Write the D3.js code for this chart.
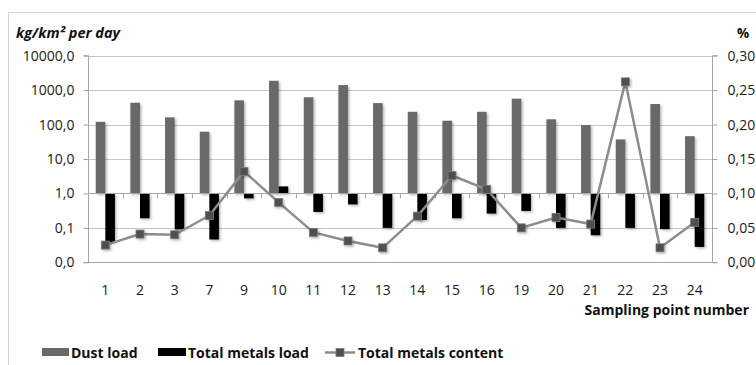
<!DOCTYPE html>
<html>
<head>
<meta charset="utf-8">
<script src="https://cdn.jsdelivr.net/npm/d3@7/dist/d3.min.js"></script>
<style>
  html, body { margin: 0; padding: 0; background: #fff; }
  svg { display: block; font-family: "Open Sans", Lato, sans-serif; }
</style>
</head>
<body>
<svg id="chart" width="756" height="365"></svg>
<script>
// Sampling points along the category axis
const samplingPoints = ["1", "2", "3", "7", "9", "10", "11", "12", "13", "14", "15", "16", "19", "20", "21", "22", "23", "24"];
// Dust load, kg/km² per day (left, logarithmic axis)
const dustLoad = [120, 430, 162, 62, 505, 1870, 620, 1400, 420, 235, 129, 235, 565, 142, 97, 37, 395, 46];
// Total metals load, kg/km² per day (left, logarithmic axis)
const metalsLoad = [0.039, 0.19, 0.09, 0.046, 0.72, 1.6, 0.29, 0.48, 0.10, 0.17, 0.19, 0.26, 0.31, 0.10, 0.061, 0.10, 0.092, 0.028];
// Total metals content, % (right axis)
const metalsContent = [0.025, 0.041, 0.040, 0.068, 0.132, 0.087, 0.0435, 0.031, 0.021, 0.067, 0.126, 0.106, 0.050, 0.065, 0.0555, 0.262, 0.021, 0.058];
// Axis ticks
const leftTicks = [0.01, 0.1, 1, 10, 100, 1000, 10000];
const rightTicks = [0, 0.05, 0.10, 0.15, 0.20, 0.25, 0.30];

const svg = d3.select("#chart");
const plot = { left: 88, right: 712, top: 55.7, bottom: 262.3 };
const FONT = "'Open Sans', Lato, sans-serif";

const locale = d3.formatLocale({ decimal: ",", thousands: "", grouping: [3], currency: ["", ""] });
const fmtLeft = locale.format(".1f");
const fmtRight = locale.format(".2f");

const x = d3.scaleBand().domain(samplingPoints).range([plot.left, plot.right]).padding(0);
const y = d3.scaleLog().domain([0.01, 10000]).range([plot.bottom, plot.top]);
const yR = d3.scaleLinear().domain([0, 0.3]).range([plot.bottom, plot.top]);

// soft shadow for bars and markers
const defs = svg.append("defs");
const f = defs.append("filter").attr("id", "shadow").attr("x", "-50%").attr("y", "-50%").attr("width", "200%").attr("height", "200%");
f.append("feDropShadow").attr("dx", 1.5).attr("dy", 1.5).attr("stdDeviation", 1).attr("flood-color", "#000").attr("flood-opacity", 0.28);

// outer chart frame
svg.append("rect").attr("x", 8.5).attr("y", 12.5).attr("width", 800).attr("height", 400)
  .attr("fill", "none").attr("stroke", "#d4d4d4").attr("stroke-width", 1);

// gridlines
svg.append("g").selectAll("line").data(leftTicks.slice(1)).join("line")
  .attr("x1", plot.left).attr("x2", plot.right)
  .attr("y1", d => Math.round(y(d)) + 0.5).attr("y2", d => Math.round(y(d)) + 0.5)
  .attr("stroke", "#c6c6c6").attr("stroke-width", 1);

// left axis
const leftAxis = d3.axisLeft(y).tickValues(leftTicks).tickFormat(fmtLeft).tickSize(5).tickPadding(9);
const gL = svg.append("g").attr("transform", `translate(${plot.left + 0.5},0)`).call(leftAxis);
gL.select(".domain").attr("stroke", "#a6a6a6").attr("d", `M-5,${plot.top}H0V${plot.bottom}`);
gL.selectAll(".tick line").attr("stroke", "#a6a6a6");
gL.selectAll(".tick text").attr("font-size", 14).attr("fill", "#1a1a1a").style("font-family", FONT);

// right axis
const rightAxis = d3.axisRight(yR).tickValues(rightTicks).tickFormat(fmtRight).tickSize(5).tickPadding(10);
const gR = svg.append("g").attr("transform", `translate(${plot.right + 0.5},0)`).call(rightAxis);
gR.select(".domain").attr("stroke", "#a6a6a6").attr("d", `M5,${plot.top}H0V${plot.bottom}`);
gR.selectAll(".tick line").attr("stroke", "#a6a6a6");
gR.selectAll(".tick text").attr("font-size", 14).attr("fill", "#1a1a1a").style("font-family", FONT);

// bottom baseline
svg.append("line").attr("x1", plot.left - 5).attr("x2", plot.right + 5)
  .attr("y1", Math.round(plot.bottom) + 0.5).attr("y2", Math.round(plot.bottom) + 0.5)
  .attr("stroke", "#a6a6a6");

// category axis crossing at 1
const y1 = y(1);
svg.append("g").selectAll("line").data(samplingPoints.slice(1)).join("line")
  .attr("x1", d => Math.round(x(d)) + 0.5).attr("x2", d => Math.round(x(d)) + 0.5)
  .attr("y1", y1).attr("y2", y1 + 5)
  .attr("stroke", "#a6a6a6");

// bars
const barW = 9.6;
const bars = svg.append("g").attr("filter", "url(#shadow)");
bars.selectAll("rect.dust").data(samplingPoints).join("rect").attr("class", "dust")
  .attr("x", (d) => x(d) + x.bandwidth() / 2 - barW)
  .attr("width", barW)
  .attr("y", (d, i) => Math.min(y(dustLoad[i]), y1))
  .attr("height", (d, i) => Math.abs(y(dustLoad[i]) - y1))
  .attr("fill", "#696969");
bars.selectAll("rect.metal").data(samplingPoints).join("rect").attr("class", "metal")
  .attr("x", (d) => x(d) + x.bandwidth() / 2)
  .attr("width", barW)
  .attr("y", (d, i) => Math.min(y(metalsLoad[i]), y1))
  .attr("height", (d, i) => Math.abs(y(metalsLoad[i]) - y1))
  .attr("fill", "#000");

// axis line at 1 drawn over bars
svg.append("line").attr("x1", plot.left).attr("x2", plot.right)
  .attr("y1", Math.round(y1) + 0.5).attr("y2", Math.round(y1) + 0.5)
  .attr("stroke", "#a6a6a6");

// metals content line
const cx = d => x(d) + x.bandwidth() / 2;
const line = d3.line().x((d, i) => cx(samplingPoints[i])).y(d => yR(d));
svg.append("path").datum(metalsContent).attr("d", line)
  .attr("fill", "none").attr("stroke", "#8c8c8c").attr("stroke-width", 2.5)
  .attr("stroke-linejoin", "round");
const mk = 8;
svg.append("g").attr("filter", "url(#shadow)").selectAll("rect").data(metalsContent).join("rect")
  .attr("x", (d, i) => cx(samplingPoints[i]) - mk / 2)
  .attr("y", d => yR(d) - mk / 2)
  .attr("width", mk).attr("height", mk)
  .attr("fill", "#4f4f4f").attr("stroke", "#7a7a7a").attr("stroke-width", 0.8);

// category labels
svg.append("g").selectAll("text").data(samplingPoints).join("text")
  .attr("x", d => cx(d)).attr("y", 295)
  .attr("text-anchor", "middle").attr("font-size", 14).attr("fill", "#1a1a1a")
  .text(d => d);

// axis titles
svg.append("text").attr("x", 16).attr("y", 37.5).attr("font-size", 14.5)
  .attr("font-weight", "bold").attr("font-style", "italic").attr("fill", "#111")
  .text("kg/km² per day");
svg.append("text").attr("x", 743).attr("y", 37.5).attr("font-size", 13.5)
  .attr("font-weight", "bold").attr("text-anchor", "middle").attr("fill", "#111")
  .text("%");
svg.append("text").attr("x", 749).attr("y", 315).attr("font-size", 14)
  .attr("font-weight", "bold").attr("text-anchor", "end").attr("fill", "#111")
  .text("Sampling point number");

// legend
const legend = svg.append("g").attr("font-size", 14).attr("font-weight", "bold").attr("fill", "#111");
legend.append("rect").attr("x", 42).attr("y", 348).attr("width", 27).attr("height", 8).attr("fill", "#696969");
legend.append("text").attr("x", 71).attr("y", 358).text("Dust load");
legend.append("rect").attr("x", 158).attr("y", 348).attr("width", 28).attr("height", 8).attr("fill", "#000");
legend.append("text").attr("x", 188).attr("y", 358).text("Total metals load");
legend.append("line").attr("x1", 325).attr("x2", 355).attr("y1", 352.5).attr("y2", 352.5)
  .attr("stroke", "#8c8c8c").attr("stroke-width", 2.5);
legend.append("rect").attr("x", 336).attr("y", 348.5).attr("width", 8).attr("height", 8)
  .attr("fill", "#4f4f4f").attr("stroke", "#7a7a7a").attr("stroke-width", 0.8);
legend.append("text").attr("x", 358).attr("y", 358).text("Total metals content");
</script>
</body>
</html>
